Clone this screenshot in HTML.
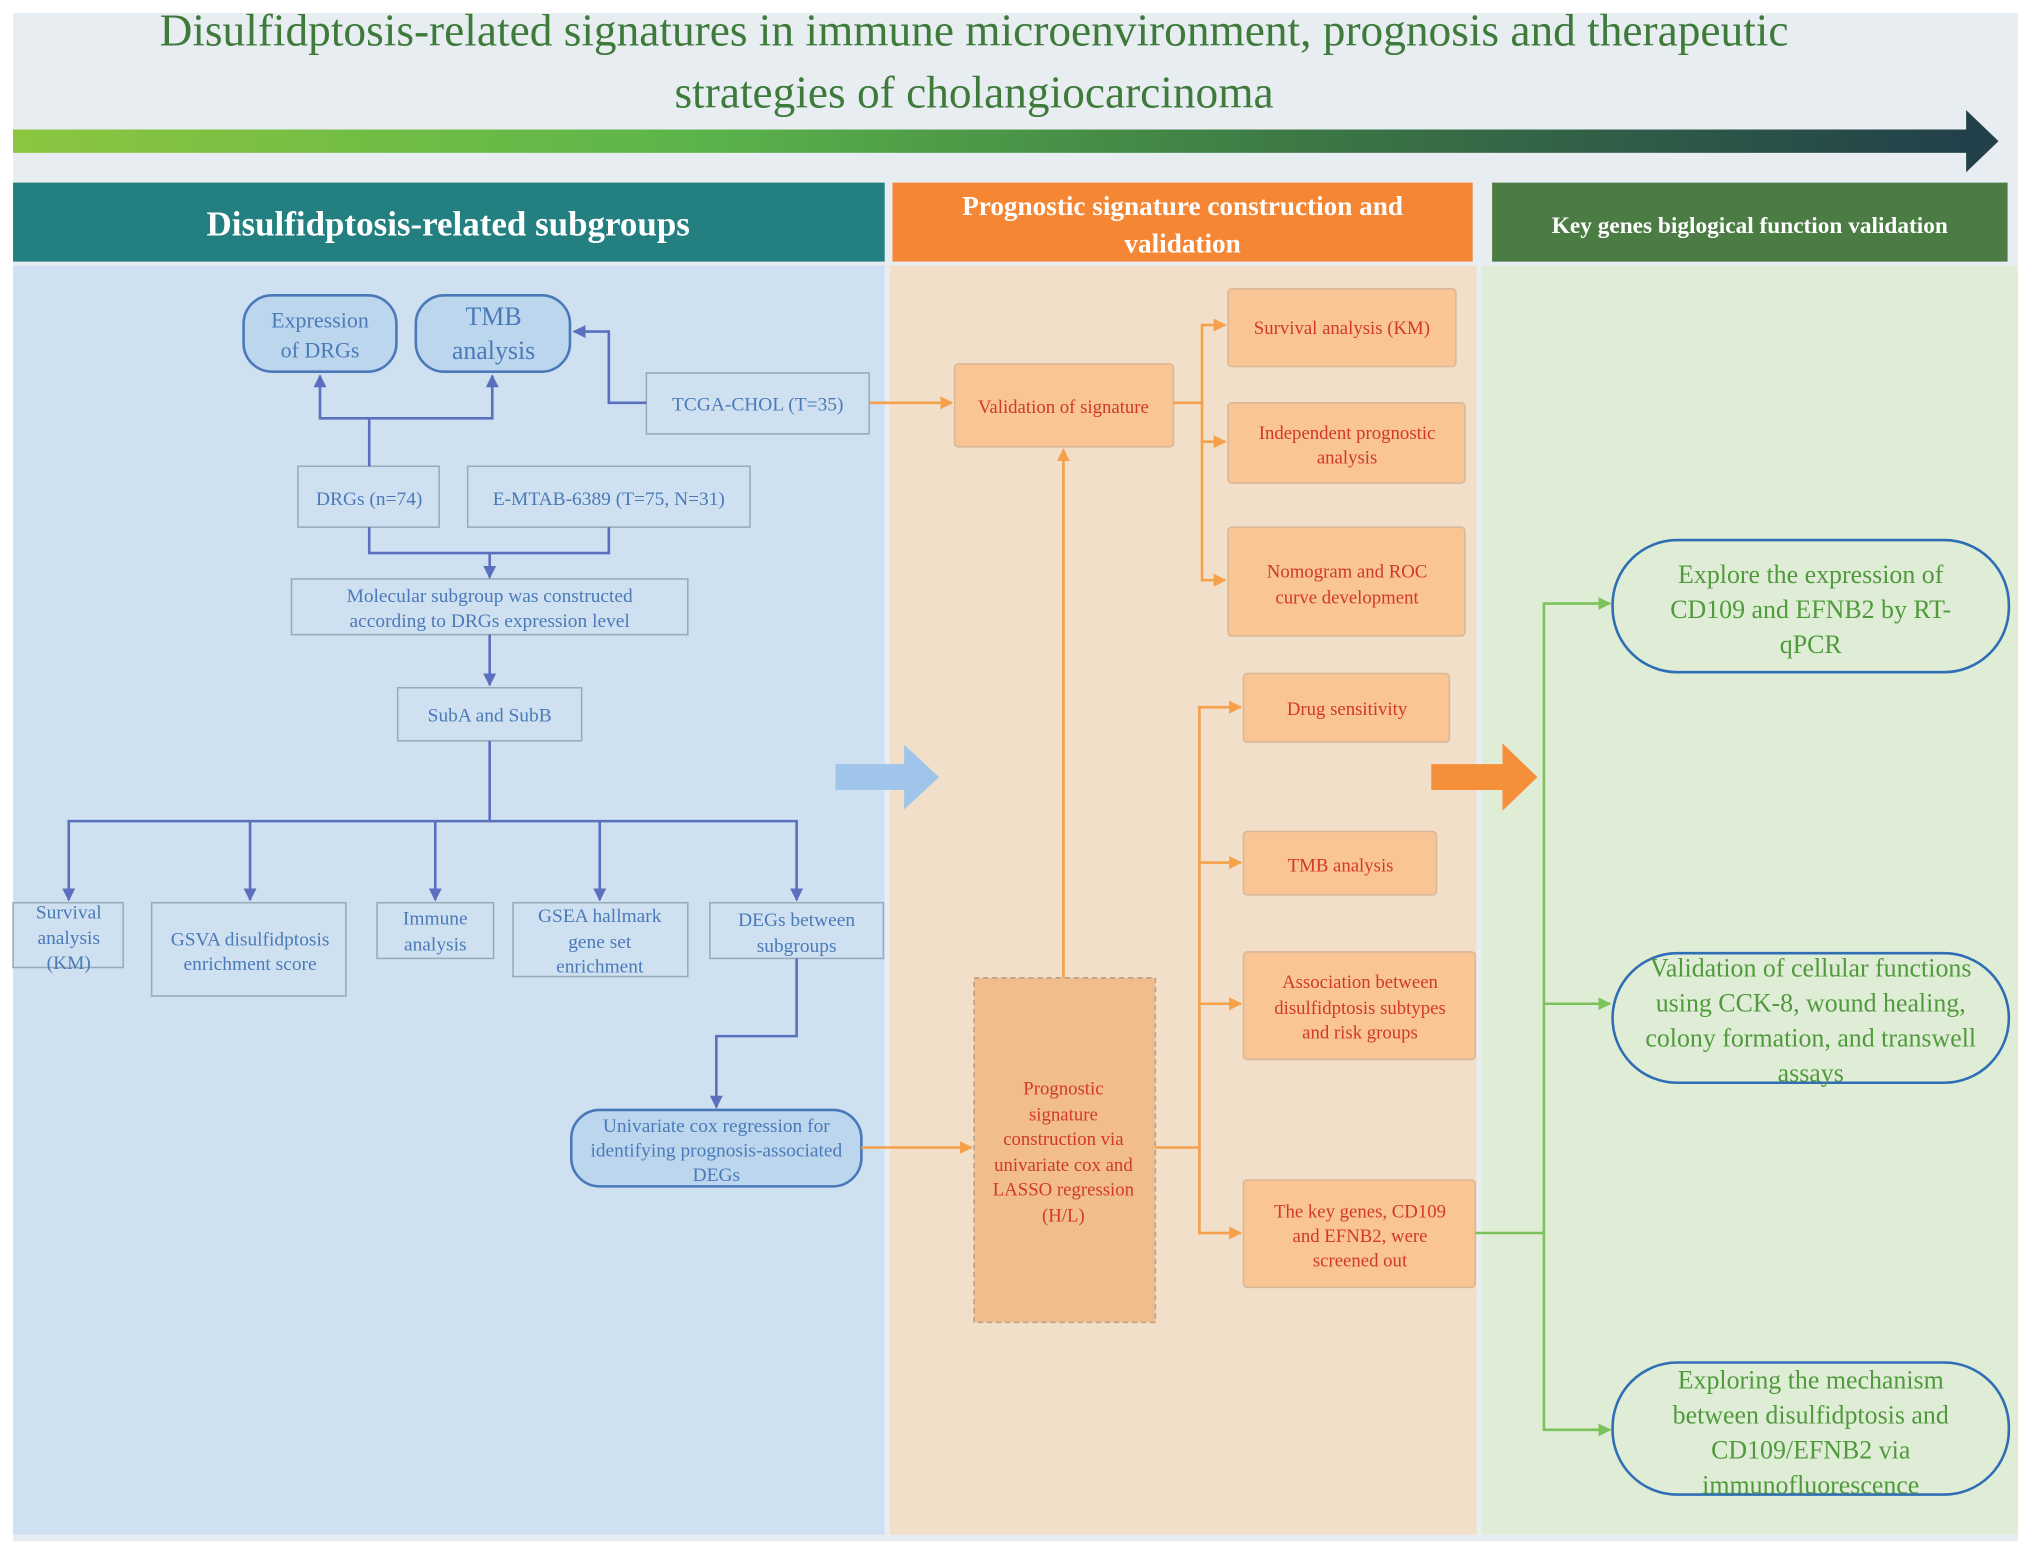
<!DOCTYPE html>
<html><head><meta charset="utf-8"><style>
html,body{margin:0;padding:0;background:#fff}
svg{display:block}
text{font-family:"Liberation Serif",serif}
</style></head><body>
<svg width="2031" height="1549" viewBox="0 0 1568 1196" xmlns="http://www.w3.org/2000/svg">
<defs>
<linearGradient id="g" x1="0" x2="1"><stop offset="0" stop-color="#8cc63f"/><stop offset="0.35" stop-color="#5bb44a"/><stop offset="0.65" stop-color="#3d7a45"/><stop offset="1" stop-color="#22404a"/></linearGradient>
<marker id="ab" markerWidth="10" markerHeight="10" refX="9" refY="5" orient="auto" markerUnits="userSpaceOnUse"><path d="M0,0 L10,5 L0,10 z" fill="#5b6fbf"/></marker>
<marker id="ao" markerWidth="10" markerHeight="10" refX="9" refY="5" orient="auto" markerUnits="userSpaceOnUse"><path d="M0,0 L10,5 L0,10 z" fill="#f5a04a"/></marker>
<marker id="ag" markerWidth="10" markerHeight="10" refX="9" refY="5" orient="auto" markerUnits="userSpaceOnUse"><path d="M0,0 L10,5 L0,10 z" fill="#7cc25a"/></marker>
</defs>
<rect width="1568" height="1196" fill="#fff"/>
<rect x="10" y="10" width="1548" height="1180" fill="#e8edf2"/>
<text x="752" y="35" font-size="35" fill="#3e7b3a" text-anchor="middle">Disulfidptosis-related signatures in immune microenvironment, prognosis and therapeutic</text>
<text x="752" y="83" font-size="35" fill="#3e7b3a" text-anchor="middle">strategies of cholangiocarcinoma</text>
<rect x="10" y="100" width="1510" height="18" fill="url(#g)"/>
<path d="M1518,85 L1543,109 L1518,133 z" fill="#22404a"/>
<!-- panels -->
<rect x="10" y="205" width="673" height="980" fill="#cfe0f1"/>
<rect x="687" y="205" width="453" height="980" fill="#f1dfc9"/>
<rect x="1144" y="205" width="414" height="980" fill="#e0edd6"/>
<rect x="10" y="141" width="673" height="61" fill="#237f80"/>
<rect x="689" y="141" width="448" height="61" fill="#f58634"/>
<rect x="1152" y="141" width="398" height="61" fill="#4a7c43"/>
<text x="346" y="182" font-size="27" font-weight="bold" fill="#fff" text-anchor="middle">Disulfidptosis-related subgroups</text>
<text x="913" y="166" font-size="21" font-weight="bold" fill="#fff" text-anchor="middle">Prognostic signature construction and</text>
<text x="913" y="195" font-size="21" font-weight="bold" fill="#fff" text-anchor="middle">validation</text>
<text x="1351" y="180" font-size="18" font-weight="bold" fill="#fff" text-anchor="middle">Key genes biglogical function validation</text>

<!-- left panel -->
<g fill="#bcd6ee" stroke="#4a78b8" stroke-width="2">
<rect x="188" y="228" width="118" height="59" rx="22"/>
<rect x="321" y="228" width="119" height="59" rx="22"/>
<rect x="441" y="857" width="224" height="59" rx="22"/>
</g>
<g fill="#cfe0f1" stroke="#9aaabb" stroke-width="1.2">
<rect x="499" y="288" width="172" height="47"/>
<rect x="230" y="360" width="109" height="47"/>
<rect x="361" y="360" width="218" height="47"/>
<rect x="225" y="447" width="306" height="43"/>
<rect x="307" y="531" width="142" height="41"/>
<rect x="10" y="697" width="85" height="50"/>
<rect x="117" y="697" width="150" height="72"/>
<rect x="291" y="697" width="90" height="43"/>
<rect x="396" y="697" width="135" height="57"/>
<rect x="548" y="697" width="134" height="43"/>
</g>
<g fill="none" stroke="#5b6fbf" stroke-width="2">
<path d="M285,360 V323 H247 V290" marker-end="url(#ab)"/>
<path d="M285,323 H380 V290" marker-end="url(#ab)"/>
<path d="M499,311 H470 V256 H443" marker-end="url(#ab)"/>
<path d="M285,407 V427 H470 V407 M378,427 V446" marker-end="url(#ab)"/>
<path d="M378,490 V529" marker-end="url(#ab)"/>
<path d="M378,572 V634 H53 V695" marker-end="url(#ab)"/>
<path d="M193,634 V695" marker-end="url(#ab)"/>
<path d="M336,634 V695" marker-end="url(#ab)"/>
<path d="M463,634 V695" marker-end="url(#ab)"/>
<path d="M378,634 H615 V695" marker-end="url(#ab)"/>
<path d="M615,740 V800 H553 V855" marker-end="url(#ab)"/>
</g>
<g fill="#4a7ab8" text-anchor="middle" font-size="15">
<text x="247" y="253" font-size="17">Expression</text><text x="247" y="276" font-size="17">of DRGs</text>
<text x="381" y="251" font-size="20">TMB</text><text x="381" y="277" font-size="20">analysis</text>
<text x="585" y="317">TCGA-CHOL (T=35)</text>
<text x="285" y="390">DRGs (n=74)</text>
<text x="470" y="390">E-MTAB-6389  (T=75, N=31)</text>
<text x="378" y="465">Molecular subgroup was constructed</text>
<text x="378" y="484">according to DRGs expression level</text>
<text x="378" y="557" font-family="DejaVu Sans, sans-serif" font-size="15">SubA and SubB</text>
<text x="53" y="709">Survival</text><text x="53" y="729">analysis</text><text x="53" y="748">(KM)</text>
<text x="193" y="730">GSVA disulfidptosis</text><text x="193" y="749">enrichment score</text>
<text x="336" y="714">Immune</text><text x="336" y="734">analysis</text>
<text x="463" y="712">GSEA hallmark</text><text x="463" y="732">gene set</text><text x="463" y="751">enrichment</text>
<text x="615" y="715">DEGs between</text><text x="615" y="735">subgroups</text>
<text x="553" y="874">Univariate cox regression for</text><text x="553" y="893">identifying prognosis-associated</text><text x="553" y="912">DEGs</text>
</g>
<path d="M645,590 H698 V575 L725,600 L698,625 V610 H645 z" fill="#9fc5ea"/>

<!-- middle panel -->
<g fill="#f9c595" stroke="#d8b898" stroke-width="1.2">
<rect x="737" y="281" width="169" height="64" rx="3"/>
<rect x="948" y="223" width="176" height="60" rx="3"/>
<rect x="948" y="311" width="183" height="62" rx="3"/>
<rect x="948" y="407" width="183" height="84" rx="3"/>
<rect x="960" y="520" width="159" height="53" rx="3"/>
<rect x="960" y="642" width="149" height="49" rx="3"/>
<rect x="960" y="735" width="179" height="83" rx="3"/>
<rect x="960" y="911" width="179" height="83" rx="3"/>
</g>
<rect x="752" y="755" width="140" height="266" fill="#f1bd8c" stroke="#b8a090" stroke-width="1.2" stroke-dasharray="4,3"/>
<g fill="none" stroke="#f5a04a" stroke-width="2">
<path d="M671,311 H735" marker-end="url(#ao)"/>
<path d="M906,311 H928 V251 H946" marker-end="url(#ao)"/>
<path d="M928,311 V341 H946" marker-end="url(#ao)"/>
<path d="M928,341 V448 H946" marker-end="url(#ao)"/>
<path d="M821,755 V347" marker-end="url(#ao)"/>
<path d="M665,886 H750" marker-end="url(#ao)"/>
<path d="M892,886 H926 V546 H958" marker-end="url(#ao)"/>
<path d="M926,666 H958" marker-end="url(#ao)"/>
<path d="M926,775 H958" marker-end="url(#ao)"/>
<path d="M926,886 V952 H958" marker-end="url(#ao)"/>
</g>
<g fill="#d2382a" text-anchor="middle" font-size="14.5">
<text x="821" y="319">Validation of signature</text>
<text x="1036" y="258">Survival analysis (KM)</text>
<text x="1040" y="339">Independent prognostic</text><text x="1040" y="358">analysis</text>
<text x="1040" y="446">Nomogram and ROC</text><text x="1040" y="466">curve development</text>
<text x="1040" y="552">Drug sensitivity</text>
<text x="1035" y="673">TMB analysis</text>
<text x="1050" y="763">Association between</text><text x="1050" y="783">disulfidptosis subtypes</text><text x="1050" y="802">and risk groups</text>
<text x="1050" y="940">The key genes, CD109</text><text x="1050" y="959">and EFNB2, were</text><text x="1050" y="978">screened out</text>
<text x="821" y="845">Prognostic</text><text x="821" y="865">signature</text><text x="821" y="884">construction via</text><text x="821" y="904">univariate cox and</text><text x="821" y="923">LASSO regression</text><text x="821" y="943">(H/L)</text>
</g>
<path d="M1105,590 H1160 V574 L1187,600 L1160,626 V610 H1105 z" fill="#f58f3a"/>

<!-- right panel -->
<g fill="none" stroke="#7cc25a" stroke-width="2">
<path d="M1139,952 H1192 V466 H1243" marker-end="url(#ag)"/>
<path d="M1192,775 H1243" marker-end="url(#ag)"/>
<path d="M1192,952 V1104 H1243" marker-end="url(#ag)"/>
</g>
<g fill="#e0edd6" stroke="#2f6eb5" stroke-width="2">
<rect x="1245" y="417" width="306" height="102" rx="50"/>
<rect x="1245" y="736" width="306" height="100" rx="50"/>
<rect x="1245" y="1052" width="306" height="102" rx="50"/>
</g>
<g fill="#4f9a3c" text-anchor="middle" font-size="20">
<text x="1398" y="450">Explore the expression of</text><text x="1398" y="477">CD109 and EFNB2 by RT-</text><text x="1398" y="504">qPCR</text>
<text x="1398" y="754">Validation of cellular functions</text><text x="1398" y="781">using CCK-8, wound healing,</text><text x="1398" y="808">colony formation, and transwell</text><text x="1398" y="835">assays</text>
<text x="1398" y="1072">Exploring the mechanism</text><text x="1398" y="1099">between disulfidptosis and</text><text x="1398" y="1126">CD109/EFNB2 via</text><text x="1398" y="1153">immunofluorescence</text>
</g>
</svg>
</body></html>
